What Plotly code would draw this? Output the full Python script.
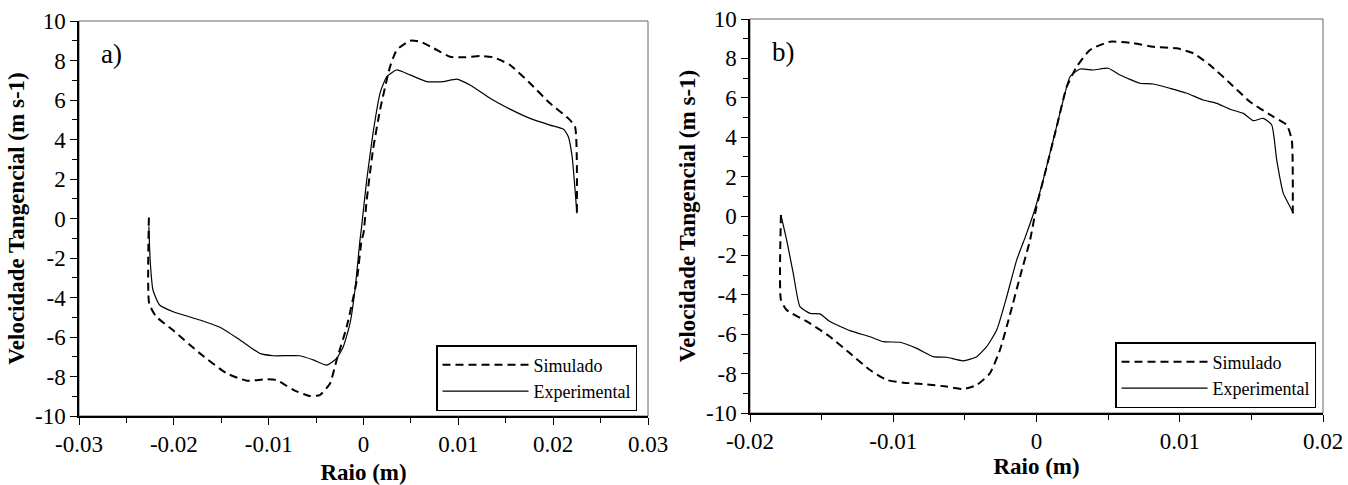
import plotly.graph_objects as go

# ---------------- data ----------------
# Panel a)
a_sim_x = [-0.02263, -0.0226, -0.0219, -0.0201, -0.01725, -0.01443, -0.01232, -0.0102, -0.00916, -0.0074,
           -0.00564, -0.0046, -0.00353, -0.00283, -0.00177, -0.0007, -0.0002, 0.0, 0.00034, 0.001,
           0.00174, 0.00245, 0.0028, 0.0035, 0.0049, 0.006, 0.0074, 0.00912, 0.01053, 0.0123,
           0.0137, 0.01545, 0.01756, 0.01967, 0.0216, 0.0223, 0.0225]
a_sim_y = [0.05, -4.3, -4.95, -5.65, -6.83, -7.84, -8.21, -8.14, -8.18, -8.68,
           -8.99, -8.94, -8.35, -7.16, -5.48, -3.11, -1.09, -0.75, 0.94, 3.47,
           5.49, 7.01, 7.69, 8.53, 9.0, 8.95, 8.62, 8.19, 8.16, 8.23,
           8.16, 7.77, 6.85, 5.83, 5.07, 4.65, 0.26]

a_exp_x = [-0.02263, -0.0225, -0.0222, -0.0215, -0.02006, -0.01725, -0.01514, -0.01303, -0.01092, -0.0095,
           -0.0067, -0.0053, -0.00388, -0.00283, -0.00213, -0.00142, -0.0009, -0.00037, -0.0002, 0.00034,
           0.001, 0.00174, 0.00227, 0.00245, 0.0035, 0.0049, 0.00667, 0.0084, 0.00983, 0.01123,
           0.01334, 0.01545, 0.01756, 0.01967, 0.0211, 0.0216, 0.022, 0.0225]
a_exp_y = [-0.4, -2.1, -3.62, -4.38, -4.72, -5.14, -5.51, -6.15, -6.83, -6.95,
           -6.95, -7.16, -7.42, -7.08, -6.49, -5.31, -3.62, -1.09, -0.41, 1.95,
           4.31, 6.34, 7.01, 7.18, 7.52, 7.27, 6.93, 6.93, 7.06, 6.76,
           6.09, 5.54, 5.07, 4.73, 4.52, 4.14, 3.13, 0.26]

# Panel b)
b_sim_x = [-0.01784, -0.01784, -0.01744, -0.01581, -0.01442, -0.01302, -0.01162, -0.01046, -0.0093, -0.0079,
           -0.00627, -0.00511, -0.00417, -0.00325, -0.00255, -0.00185, -0.00115, -0.00045, 0.0, 0.00071,
           0.00141, 0.00211, 0.00281, 0.00373, 0.00513, 0.00676, 0.00815, 0.00979, 0.01095, 0.01211,
           0.01351, 0.0149, 0.01653, 0.01747, 0.01782, 0.01789]
b_sim_y = [0.05, -4.26, -4.77, -5.45, -6.13, -6.97, -7.82, -8.32, -8.46, -8.53,
           -8.66, -8.78, -8.58, -7.98, -6.8, -5.0, -3.08, -1.22, 0.47, 2.5,
           4.53, 6.56, 7.58, 8.43, 8.85, 8.77, 8.59, 8.51, 8.26, 7.66,
           6.74, 5.8, 5.04, 4.62, 3.86, 0.14]

b_exp_x = [-0.01784, -0.01744, -0.01698, -0.01651, -0.01581, -0.01511, -0.01442, -0.01302, -0.01162, -0.01069,
           -0.00953, -0.00836, -0.0072, -0.00627, -0.00511, -0.00417, -0.00348, -0.00278, -0.00208, -0.00138,
           -0.0008, -0.0002, 0.00047, 0.00117, 0.00187, 0.00234, 0.00304, 0.00397, 0.00501, 0.00583,
           0.00723, 0.00815, 0.00932, 0.01049, 0.01164, 0.01258, 0.01351, 0.01444, 0.01513, 0.01583,
           0.01642, 0.01677, 0.01723, 0.0177, 0.01793]
b_exp_y = [0.05, -1.22, -2.91, -4.6, -4.94, -4.97, -5.36, -5.82, -6.13, -6.38,
           -6.41, -6.72, -7.14, -7.17, -7.35, -7.14, -6.63, -5.79, -4.1, -2.23,
           -1.1, 0.14, 1.83, 3.86, 5.89, 7.07, 7.46, 7.41, 7.5, 7.16,
           6.74, 6.7, 6.48, 6.23, 5.89, 5.72, 5.42, 5.21, 4.84, 4.96,
           4.62, 2.84, 1.15, 0.47, 0.14]

a_xtick_vals = [-0.03, -0.02, -0.01, 0, 0.01, 0.02, 0.03]
a_xtick_text = ["-0.03", "-0.02", "-0.01", "0", "0.01", "0.02", "0.03"]
b_xtick_vals = [-0.02, -0.01, 0, 0.01, 0.02]
b_xtick_text = ["-0.02", "-0.01", "0", "0.01", "0.02"]
ytick_vals = [-10, -8, -6, -4, -2, 0, 2, 4, 6, 8, 10]
ytick_text = ["-10", "-8", "-6", "-4", "-2", "0", "2", "4", "6", "8", "10"]

series_names = ["Simulado", "Experimental"]
x_title = "<b>Raio (m)</b>"
y_title = "<b>Velocidade Tangencial (m s-1)</b>"
panel_labels = ["a)", "b)"]

# ---------------- figure ----------------
FONT = "Liberation Serif"
W, H = 1348, 485
ML, MR, MT, MB = 79, 25, 19, 69
PW, PH = W - ML - MR, H - MT - MB

fig = go.Figure()

sim_line = dict(color="black", width=2, dash="8px,5px", shape="spline", smoothing=0.5)
exp_line = dict(color="black", width=1.2, shape="spline", smoothing=0.5)

fig.add_trace(go.Scatter(x=a_sim_x, y=a_sim_y, mode="lines", name=series_names[0], line=sim_line,
                         xaxis="x", yaxis="y", legend="legend"))
fig.add_trace(go.Scatter(x=a_exp_x, y=a_exp_y, mode="lines", name=series_names[1], line=exp_line,
                         xaxis="x", yaxis="y", legend="legend"))
fig.add_trace(go.Scatter(x=b_sim_x, y=b_sim_y, mode="lines", name=series_names[0], line=sim_line,
                         xaxis="x2", yaxis="y2", legend="legend2"))
fig.add_trace(go.Scatter(x=b_exp_x, y=b_exp_y, mode="lines", name=series_names[1], line=exp_line,
                         xaxis="x2", yaxis="y2", legend="legend2"))

tickfont = dict(family=FONT, size=23, color="black")
titlefont = dict(family=FONT, size=23, color="black")

def xaxis_cfg(domain, rng, vals, text, anchor, standoff):
    return dict(domain=domain, range=rng, anchor=anchor, tickmode="array", tickvals=vals, ticktext=text,
                automargin=False,
                showgrid=False, zeroline=False, showline=True, linecolor="black", linewidth=1.5,
                ticks="outside", ticklen=7, tickwidth=1.3, tickcolor="black", tickfont=tickfont,
                minor=dict(ticks="outside", ticklen=5, tickwidth=1.3, tickcolor="black", dtick=0.005),
                title=dict(text=x_title, font=titlefont, standoff=standoff))

def yaxis_cfg(domain, anchor):
    return dict(domain=domain, range=[-10, 10], anchor=anchor, tickmode="array", tickvals=ytick_vals,
                ticktext=ytick_text, automargin=False,
                showgrid=False, zeroline=False, showline=True, linecolor="black",
                linewidth=1.5, ticks="outside", ticklen=7, tickwidth=1.3, tickcolor="black", tickfont=tickfont,
                minor=dict(ticks="outside", ticklen=5, tickwidth=1.3, tickcolor="black", dtick=1),
                title=dict(text=y_title, font=titlefont, standoff=4))

# pixel -> paper helpers (paper spans the area inside the margins)
def px(p):
    return (p - ML) / PW

def py(p):
    return (H - MB - p) / PH

ax_a_x = [px(79), px(648)]
ax_a_y = [py(416), py(21)]
ax_b_x = [px(750), px(1323)]
ax_b_y = [py(413), py(19)]

legend_common = dict(bgcolor="white", bordercolor="black", borderwidth=1.5,
                     font=dict(family=FONT, size=18, color="black"),
                     xanchor="right", yanchor="bottom", itemwidth=86, tracegroupgap=0,
                     xref="paper", yref="paper")

fig.update_layout(
    template="none",
    width=W, height=H,
    margin=dict(l=ML, r=MR, t=MT, b=MB, pad=0),
    paper_bgcolor="white", plot_bgcolor="white",
    font=dict(family=FONT, color="black"),
    xaxis=xaxis_cfg(ax_a_x, [-0.03, 0.03], a_xtick_vals, a_xtick_text, "y", 8),
    yaxis=yaxis_cfg(ax_a_y, "x"),
    xaxis2=xaxis_cfg(ax_b_x, [-0.02, 0.02], b_xtick_vals, b_xtick_text, "y2", 0),
    yaxis2=yaxis_cfg(ax_b_y, "x2"),
    legend=dict(x=px(637), y=py(411), **legend_common),
    legend2=dict(x=px(1316), y=py(408), **legend_common),
    showlegend=True,
)

# grey frame (top/right border)
for xr, yr in [("x domain", "y domain"), ("x2 domain", "y2 domain")]:
    fig.add_shape(type="rect", xref=xr, yref=yr, x0=0, x1=1, y0=0, y1=1,
                  line=dict(color="#666666", width=1), layer="below")

# panel labels
fig.add_annotation(text=panel_labels[0], xref="x domain", yref="y domain", x=0.035, y=0.917,
                   xanchor="left", yanchor="middle", showarrow=False,
                   font=dict(family=FONT, size=27, color="black"))
fig.add_annotation(text=panel_labels[1], xref="x2 domain", yref="y2 domain", x=0.035, y=0.917,
                   xanchor="left", yanchor="middle", showarrow=False,
                   font=dict(family=FONT, size=27, color="black"))

fig.write_html("out.html", config={"displayModeBar": False},
               post_script="document.body.style.margin='0';document.body.style.padding='0';")
